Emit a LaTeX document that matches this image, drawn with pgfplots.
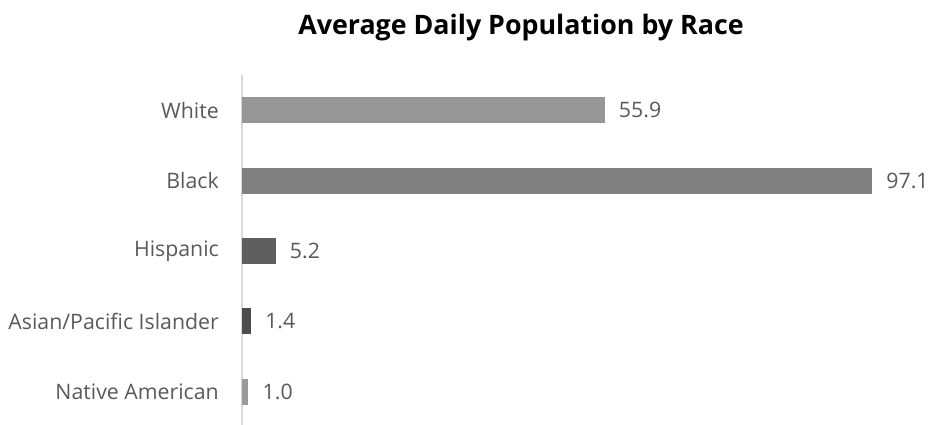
\documentclass[border=0pt]{standalone}
\usepackage{pgfplots}
\pgfplotsset{compat=1.18}
\usepackage{fontspec}
\setmainfont{Open Sans}
\definecolor{txt}{HTML}{595959}
\definecolor{axisgray}{HTML}{D9D9D9}
\definecolor{barwhite}{HTML}{969696}
\definecolor{barblack}{HTML}{808080}
\definecolor{barhisp}{HTML}{5F5F5F}
\definecolor{barasian}{HTML}{4D4D4D}
\definecolor{barnative}{HTML}{9A9A9A}

\begin{document}
\begin{tikzpicture}
\useasboundingbox (0pt,0pt) rectangle (931pt,425pt);
\node[font=\fontsize{26.8}{30}\selectfont\bfseries, text=black] at (521pt,397pt) {Average Daily Population by Race};
\begin{axis}[
    at={(242pt,-2pt)}, anchor=south west,
    scale only axis,
    width=649pt, height=352pt,
    xmin=0, xmax=100,
    ymin=-0.5, ymax=4.5,
    xbar, bar width=26pt, bar shift=0pt,
    axis x line=none,
    axis y line=left,
    y axis line style={draw=axisgray, line width=1.5pt, -},
    major tick length=0pt,
    ytick={0,1,2,3,4},
    yticklabels={Native American, Asian/Pacific Islander, Hispanic, Black, White},
    yticklabel style={font=\fontsize{21.3}{24}\selectfont, text=txt, inner sep=0pt, xshift=-23pt},
    nodes near coords,
    nodes near coords style={font=\fontsize{21.3}{24}\selectfont, text=txt, anchor=west, inner sep=0pt, xshift=14pt,
        /pgf/number format/.cd, fixed, fixed zerofill, precision=1, assume math mode=true},
    clip=false,
]
\addplot[fill=barwhite, draw=none] coordinates {(55.9,4)};
\addplot[fill=barblack, draw=none] coordinates {(97.1,3)};
\addplot[fill=barhisp, draw=none] coordinates {(5.2,2)};
\addplot[fill=barasian, draw=none] coordinates {(1.4,1)};
\addplot[fill=barnative, draw=none] coordinates {(1.0,0)};
\end{axis}
\end{tikzpicture}
\end{document}
